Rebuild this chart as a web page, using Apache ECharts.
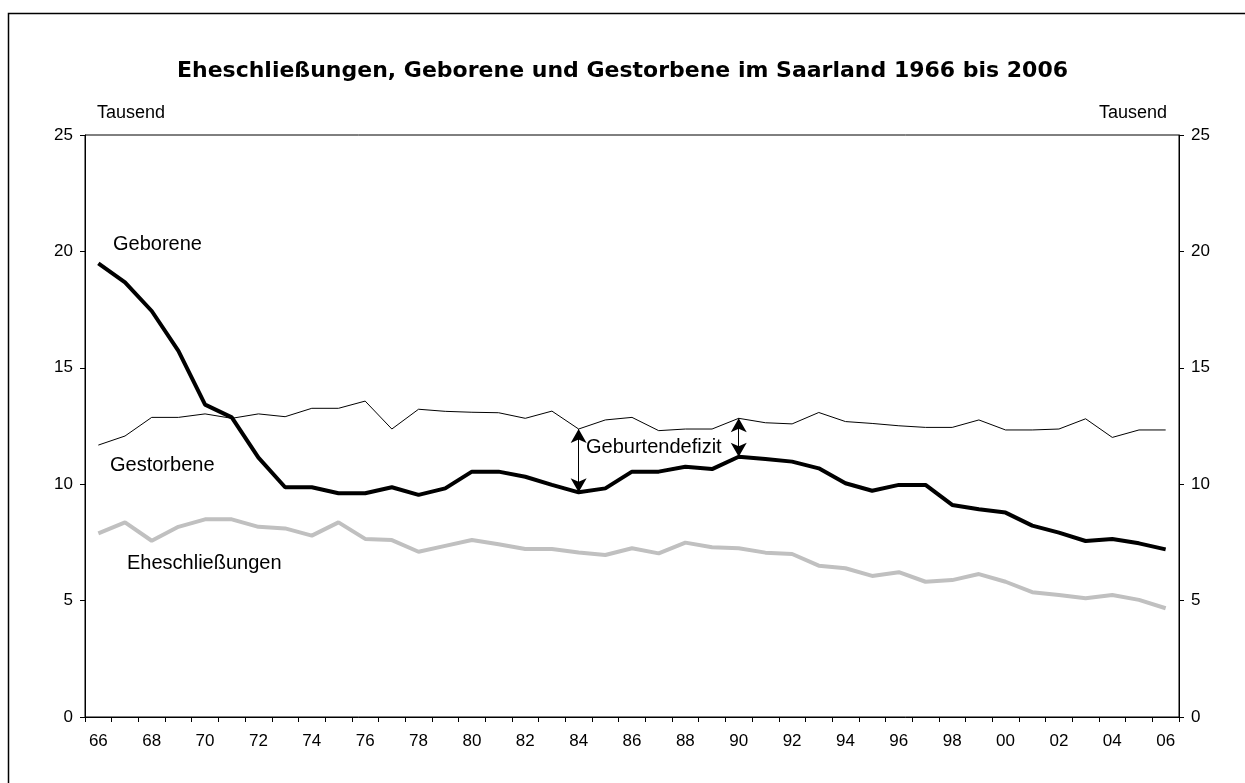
<!DOCTYPE html>
<html>
<head>
<meta charset="utf-8">
<script src="https://cdn.jsdelivr.net/npm/echarts@6/dist/echarts.min.js"></script>
<style>
  html, body { margin: 0; padding: 0; background: #fff; }
  #chart { width: 1245px; height: 783px; }
</style>
</head>
<body>
<div id="chart"></div>
<script>
// Jahre 1966 bis 2006
const years = ['66', '67', '68', '69', '70', '71', '72', '73', '74', '75', '76', '77', '78', '79',
  '80', '81', '82', '83', '84', '85', '86', '87', '88', '89',
  '90', '91', '92', '93', '94', '95', '96', '97', '98', '99',
  '00', '01', '02', '03', '04', '05', '06'];

// Werte in Tausend
const geborene = [19.49, 18.67, 17.44, 15.73, 13.42, 12.87, 11.14, 9.87, 9.87, 9.61, 9.61, 9.87, 9.54, 9.82,
  10.54, 10.54, 10.32, 9.97, 9.65, 9.82, 10.54, 10.54, 10.75, 10.65,
  11.18, 11.08, 10.97, 10.68, 10.04, 9.72, 9.97, 9.97, 9.11, 8.92,
  8.78, 8.22, 7.92, 7.56, 7.65, 7.46, 7.20];
const gestorbene = [11.68, 12.07, 12.87, 12.87, 13.02, 12.83, 13.02, 12.90, 13.26, 13.26, 13.57, 12.37, 13.22, 13.13,
  13.09, 13.07, 12.83, 13.14, 12.37, 12.76, 12.87, 12.30, 12.37, 12.37,
  12.83, 12.64, 12.59, 13.08, 12.69, 12.61, 12.51, 12.44, 12.44, 12.76,
  12.33, 12.33, 12.37, 12.81, 12.01, 12.33, 12.33];
const eheschliessungen = [7.89, 8.36, 7.57, 8.17, 8.49, 8.49, 8.17, 8.10, 7.79, 8.36, 7.65, 7.60, 7.10, 7.35,
  7.60, 7.42, 7.22, 7.22, 7.07, 6.96, 7.25, 7.03, 7.49, 7.29,
  7.25, 7.06, 7.00, 6.50, 6.39, 6.06, 6.22, 5.81, 5.88, 6.14,
  5.81, 5.36, 5.24, 5.10, 5.24, 5.03, 4.67];

// Pfeile fuer das Geburtendefizit (Jahresindex)
const defizitJahre = [18, 24];

const font = 'Liberation Sans, Arial, sans-serif';
const chart = echarts.init(document.getElementById('chart'));

const yAxisBase = {
  type: 'value',
  min: 0,
  max: 25,
  interval: 5,
  splitLine: { show: false },
  axisLine: { show: true, lineStyle: { color: '#000', width: 1 } },
  axisTick: { show: true, length: 5, lineStyle: { color: '#000' } },
  axisLabel: { color: '#000', fontSize: 17, fontFamily: font, margin: 12 },
  name: 'Tausend',
  nameLocation: 'end',
  nameGap: 13,
  nameTextStyle: { color: '#000', fontSize: 18, fontFamily: font }
};

const option = {
  backgroundColor: '#fff',
  animation: false,
  title: {
    text: 'Eheschließungen, Geborene und Gestorbene im Saarland 1966 bis 2006',
    left: 'center',
    top: 55,
    textStyle: { fontSize: 22, fontWeight: 'bold', color: '#000', fontFamily: 'DejaVu Sans, sans-serif' }
  },
  grid: {
    left: 85, right: 66, top: 135, bottom: 66,
    show: true, borderColor: '#000', borderWidth: 1
  },
  xAxis: {
    type: 'category',
    data: years,
    boundaryGap: true,
    axisLine: { lineStyle: { color: '#000', width: 1 } },
    axisTick: { show: true, interval: 0, length: 5, lineStyle: { color: '#000' } },
    axisLabel: { interval: 1, color: '#000', fontSize: 17, fontFamily: font, margin: 16 },
    splitLine: { show: false }
  },
  yAxis: [
    Object.assign({}, yAxisBase, {
      position: 'left',
      nameTextStyle: Object.assign({}, yAxisBase.nameTextStyle, { align: 'left', padding: [0, 0, 0, 12] })
    }),
    Object.assign({}, yAxisBase, {
      position: 'right',
      nameTextStyle: Object.assign({}, yAxisBase.nameTextStyle, { align: 'right', padding: [0, 12, 0, 0] })
    })
  ],
  series: [
    {
      name: 'Eheschließungen',
      type: 'line',
      data: eheschliessungen,
      showSymbol: false,
      lineStyle: { color: '#c0c0c0', width: 4 },
      z: 2
    },
    {
      name: 'Gestorbene',
      type: 'line',
      data: gestorbene,
      showSymbol: false,
      lineStyle: { color: '#000', width: 1 },
      z: 3,
      markLine: {
        silent: true,
        symbol: ['arrow', 'arrow'],
        symbolSize: [12, 14],
        label: { show: false },
        lineStyle: { color: '#000', width: 1, type: 'solid' },
        data: defizitJahre.map(i => [
          { coord: [i, gestorbene[i]] },
          { coord: [i, geborene[i]] }
        ])
      }
    },
    {
      name: 'Geborene',
      type: 'line',
      data: geborene,
      showSymbol: false,
      lineStyle: { color: '#000', width: 4 },
      z: 4
    }
  ],
  graphic: [
    {
      type: 'rect',
      silent: true,
      shape: { x: 8.5, y: 13.5, width: 1300, height: 900 },
      style: { fill: null, stroke: '#000', lineWidth: 1.5 }
    },
    { type: 'text', left: 113, top: 234, style: { text: 'Geborene', fontSize: 20, fontFamily: font, fill: '#000' } },
    { type: 'text', left: 110, top: 455, style: { text: 'Gestorbene', fontSize: 20, fontFamily: font, fill: '#000' } },
    { type: 'text', left: 127, top: 553, style: { text: 'Eheschließungen', fontSize: 20, fontFamily: font, fill: '#000' } },
    { type: 'text', left: 586, top: 437, style: { text: 'Geburtendefizit', fontSize: 20, fontFamily: font, fill: '#000' } }
  ]
};

chart.setOption(option);
</script>
</body>
</html>
